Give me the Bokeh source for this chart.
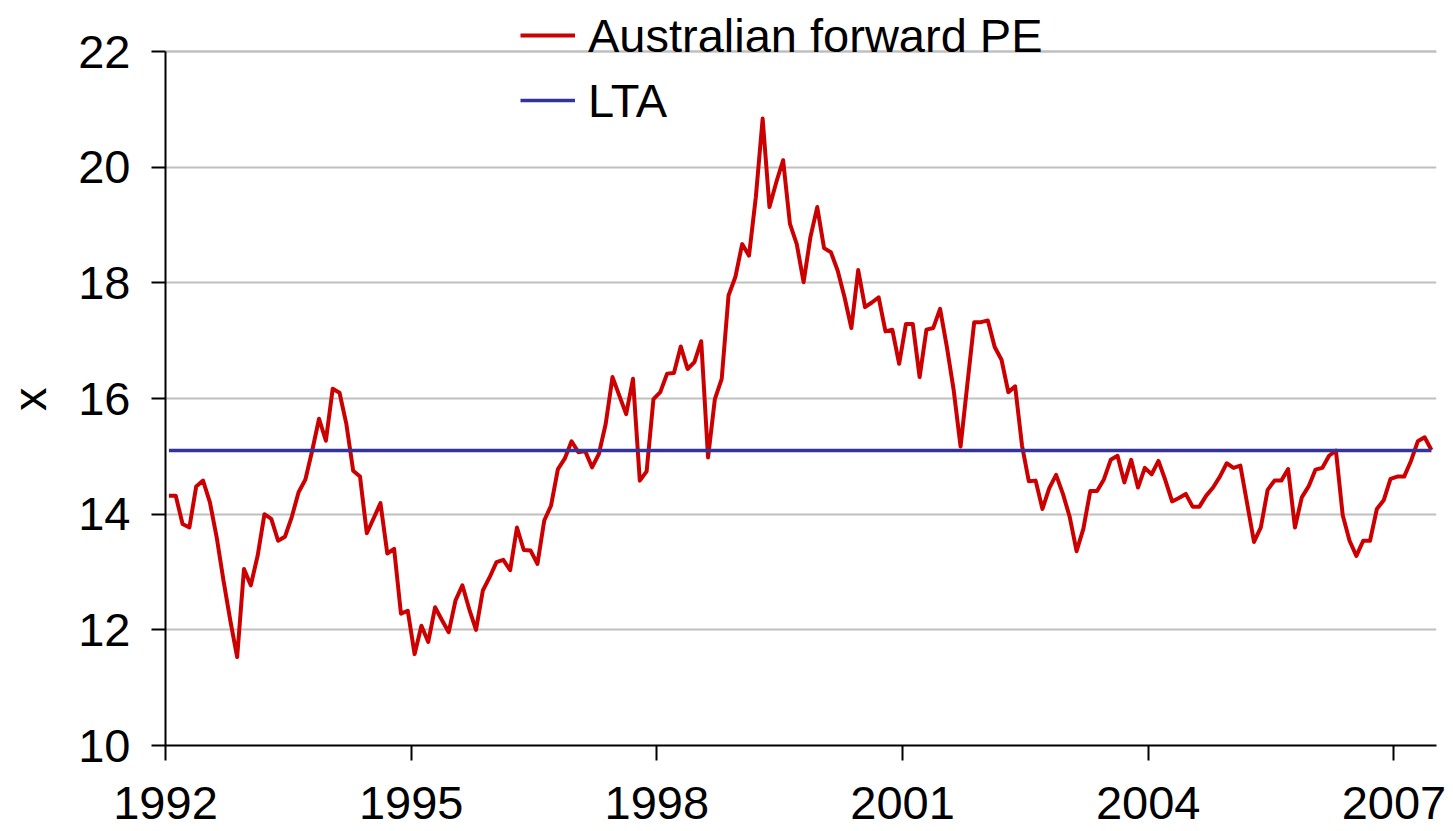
import pandas as pd
from bokeh.plotting import figure
from bokeh.models import Legend, LegendItem, FixedTicker, Range1d, Grid
from bokeh.embed import file_html
from bokeh.resources import INLINE

# Monthly Australian forward PE, Jan 1992 - Jun 2007
start_month = "1992-01"
pe_values = [
    14.32, 14.32, 13.83, 13.77, 14.48, 14.58, 14.21, 13.60, 12.85, 12.16, 11.53, 13.05,  # 1992
    12.77, 13.28, 14.00, 13.92, 13.54, 13.61, 13.95, 14.38, 14.60, 15.10, 15.65, 15.27,  # 1993
    16.17, 16.10, 15.56, 14.75, 14.65, 13.67, 13.93, 14.19, 13.32, 13.40, 12.28, 12.33,  # 1994
    11.58, 12.07, 11.79, 12.39, 12.17, 11.96, 12.51, 12.77, 12.36, 12.00, 12.68, 12.91,  # 1995
    13.17, 13.21, 13.03, 13.77, 13.38, 13.37, 13.14, 13.89, 14.15, 14.78, 14.96, 15.26,  # 1996
    15.07, 15.09, 14.81, 15.04, 15.56, 16.37, 16.05, 15.73, 16.34, 14.58, 14.74, 15.99,  # 1997
    16.11, 16.43, 16.44, 16.90, 16.51, 16.63, 16.99, 14.98, 15.99, 16.34, 17.78, 18.10,  # 1998
    18.67, 18.47, 19.48, 20.84, 19.31, 19.74, 20.12, 19.02, 18.67, 18.01, 18.79, 19.31,  # 1999
    18.60, 18.53, 18.21, 17.75, 17.22, 18.22, 17.58, 17.66, 17.75, 17.16, 17.19, 16.60,  # 2000
    17.29, 17.29, 16.37, 17.19, 17.22, 17.55, 16.89, 16.14, 15.17, 16.25, 17.32, 17.32,  # 2001
    17.35, 16.89, 16.67, 16.11, 16.21, 15.19, 14.57, 14.58, 14.09, 14.45, 14.68, 14.35,  # 2002
    13.95, 13.36, 13.75, 14.40, 14.40, 14.60, 14.94, 15.01, 14.55, 14.94, 14.46, 14.80,  # 2003
    14.69, 14.92, 14.59, 14.22, 14.28, 14.35, 14.13, 14.13, 14.32, 14.46, 14.65, 14.88,  # 2004
    14.80, 14.84, 14.18, 13.52, 13.77, 14.42, 14.58, 14.58, 14.78, 13.77, 14.29, 14.48,  # 2005
    14.77, 14.80, 15.01, 15.10, 13.98, 13.54, 13.28, 13.54, 13.54, 14.09, 14.24, 14.61,  # 2006
    14.65, 14.65, 14.92, 15.26, 15.33, 15.11,                                            # 2007
]
lta_value = 15.1
series_names = ["Australian forward PE", "LTA"]
y_axis_title = "x"
x_tick_years = [1992, 1995, 1998, 2001, 2004, 2007]
y_ticks = [10, 12, 14, 16, 18, 20, 22]

months = pd.period_range(start_month, periods=len(pe_values), freq="M")
x_years = list(months.year + (months.month - 0.5) / 12.0)
lta_values = [lta_value] * len(pe_values)

FONT = "Liberation Sans"
FS = "47px"
GRID_COLOR = "#C0C0C0"

X0, X1 = 1992.0, 2007.52
Y0, Y1 = y_ticks[0], y_ticks[-1]
# the frame reaches the top of the canvas so the legend above the 22 line is not clipped;
# the axis itself is bounded to 10..22
Y_TOP = Y0 + 745.0 / (694.0 / (Y1 - Y0))

p = figure(
    width=1453, height=831,
    x_range=Range1d(X0, X1), y_range=Range1d(Y0, Y_TOP),
    output_backend="svg", toolbar_location=None,
    min_border_left=165, min_border_right=17, min_border_top=0, min_border_bottom=86,
)
p.outline_line_color = None
p.background_fill_color = "white"
p.border_fill_color = "white"

r_pe = p.line(x_years, pe_values, line_color="#CC0000", line_width=4, line_join="round")
r_lta = p.line(x_years, lta_values, line_color="#333399", line_width=3.5)

# axes
p.xaxis.ticker = FixedTicker(ticks=x_tick_years)
p.yaxis.ticker = FixedTicker(ticks=y_ticks)
p.yaxis.bounds = (Y0, Y1)
for ax in (p.xaxis[0], p.yaxis[0]):
    ax.axis_line_color = "black"
    ax.axis_line_width = 2
    ax.major_tick_line_color = "black"
    ax.major_tick_line_width = 2
    ax.major_tick_in = 0
    ax.minor_tick_line_color = None
    ax.major_label_text_font = FONT
    ax.major_label_text_font_size = FS
    ax.major_label_text_color = "black"
p.xaxis.major_tick_out = 15
p.yaxis.major_tick_out = 14
p.xaxis.major_label_standoff = 26
p.yaxis.major_label_standoff = 21
# trailing no-break spaces centre the rotated title on the bounded 10..22 axis
p.yaxis.axis_label = y_axis_title + "\u00a0" * 4
p.yaxis.axis_label_text_font = FONT
p.yaxis.axis_label_text_font_size = FS
p.yaxis.axis_label_text_font_style = "normal"
p.yaxis.axis_label_text_color = "black"
p.yaxis.axis_label_standoff = 19

# horizontal gridlines; the top one is interrupted behind the legend
p.xgrid.grid_line_color = None
p.ygrid.ticker = FixedTicker(ticks=y_ticks[1:-1])
p.ygrid.grid_line_color = GRID_COLOR
p.ygrid.grid_line_width = 2
legend_gap = (1995.36, 2003.72)  # x extent of the legend box (styling)
for b in [(X0, legend_gap[0]), (legend_gap[1], X1)]:
    g = Grid(dimension=1, ticker=FixedTicker(ticks=[Y1]), bounds=b,
             grid_line_color=GRID_COLOR, grid_line_width=2)
    p.add_layout(g)

legend = Legend(
    items=[LegendItem(label=series_names[0], renderers=[r_pe]),
           LegendItem(label=series_names[1], renderers=[r_lta])],
    location=(355, 615),
    orientation="vertical",
    background_fill_alpha=0.0,
    border_line_color=None,
    padding=0, spacing=5, margin=0,
    glyph_width=55, glyph_height=60, label_height=60,
    label_standoff=13,
    label_text_font=FONT, label_text_font_size=FS, label_text_color="black",
)
p.add_layout(legend, "center")

open("out.html", "w").write(file_html(p, INLINE))
